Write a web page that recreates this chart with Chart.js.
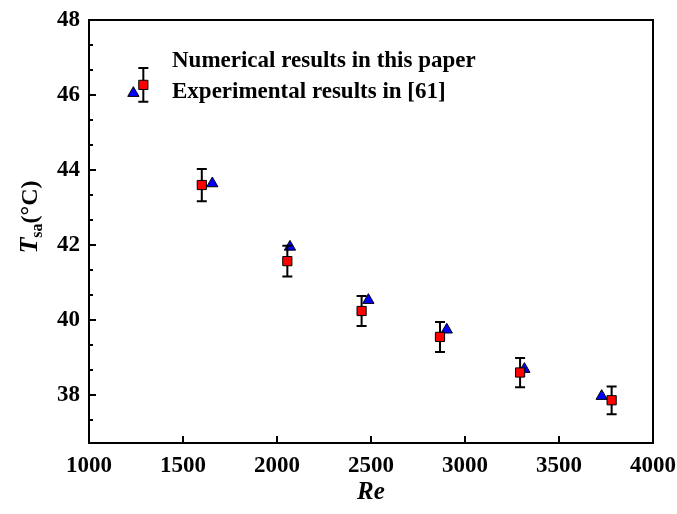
<!DOCTYPE html>
<html>
<head>
<meta charset="utf-8">
<script src="https://cdn.jsdelivr.net/npm/chart.js@4.4.1/dist/chart.umd.min.js"></script>
<style>
  html, body { margin: 0; padding: 0; background: #fff; }
  #wrap { width: 677px; height: 514px; }
</style>
</head>
<body>
<div id="wrap"><canvas id="chart" width="677" height="514"></canvas></div>
<script>
// values
const reNum = [1236, 1656, 2069, 2486, 2903, 3316, 3727];
const tNum = [46.05, 43.64, 41.95, 40.53, 39.74, 38.69, 37.97];
const reExp = [1289, 1600, 2055, 2450, 2867, 3293, 3780];
const tExp = [46.27, 43.6, 41.57, 40.24, 39.55, 38.6, 37.86];
const tErr = [0.45, 0.43, 0.41, 0.40, 0.40, 0.39, 0.37];
const xTicks = [1000, 1500, 2000, 2500, 3000, 3500, 4000];
const yTicks = [38, 40, 42, 44, 46, 48];
const legendText = ['Numerical results in this paper', 'Experimental results in [61]'];

const serif = '"Liberation Serif", "Times New Roman", serif';

const decor = {
  id: 'decor',
  afterDatasetDraw(chart, args) {
    if (args.index !== 1) return;
    // error bars of the experiment, drawn over the triangles and under the squares
    const { ctx, scales: { x, y } } = chart;
    ctx.save();
    ctx.strokeStyle = '#000';
    ctx.lineWidth = 2;
    reExp.forEach((re, i) => {
      const px = x.getPixelForValue(re);
      const top = y.getPixelForValue(tExp[i] + tErr[i]);
      const bot = y.getPixelForValue(tExp[i] - tErr[i]);
      ctx.beginPath();
      ctx.moveTo(px, top); ctx.lineTo(px, bot);
      ctx.moveTo(px - 5, top); ctx.lineTo(px + 5, top);
      ctx.moveTo(px - 5, bot); ctx.lineTo(px + 5, bot);
      ctx.stroke();
    });
    ctx.restore();
  },
  afterDraw(chart) {
    const { ctx, chartArea: a, scales: { x, y } } = chart;
    ctx.save();
    ctx.strokeStyle = '#000';
    ctx.lineWidth = 2;
    ctx.strokeRect(a.left, a.top, a.right - a.left, a.bottom - a.top);

    // inward ticks
    ctx.beginPath();
    xTicks.forEach(v => {
      const px = x.getPixelForValue(v);
      ctx.moveTo(px, a.bottom); ctx.lineTo(px, a.bottom - 7);
    });
    for (let v = 38 - 2 / 3 * 2; v <= 48.01; v += 2 / 3) {
      const py = y.getPixelForValue(v);
      if (py > a.bottom - 1 || py < a.top + 1) continue;
      const major = yTicks.some(t => Math.abs(t - v) < 1e-6);
      ctx.moveTo(a.left, py); ctx.lineTo(a.left + (major ? 7 : 4), py);
    }
    ctx.stroke();

    ctx.fillStyle = '#000';
    // legend text
    ctx.font = 'bold 23px ' + serif;
    ctx.textAlign = 'left';
    ctx.textBaseline = 'alphabetic';
    ctx.fillText(legendText[0], 172, 67);
    ctx.fillText(legendText[1], 172, 98);

    // x title
    ctx.font = 'italic bold 25px ' + serif;
    ctx.textAlign = 'center';
    ctx.fillText('Re', 371, 499);

    // y title: T_sa(°C)
    ctx.translate(37, 217);
    ctx.rotate(-Math.PI / 2);
    const fT = 'italic bold 26px ' + serif;
    const fS = 'bold 16px ' + serif;
    const fU = 'bold 24px ' + serif;
    ctx.font = fT; const wT = ctx.measureText('T').width;
    ctx.font = fS; const wS = ctx.measureText('sa').width;
    ctx.font = fU; const wU = ctx.measureText('(\u00B0C)').width;
    let cx = -(wT + wS + wU) / 2;
    ctx.textAlign = 'left';
    ctx.font = fT; ctx.fillText('T', cx, 0); cx += wT;
    ctx.font = fS; ctx.fillText('sa', cx, 5); cx += wS;
    ctx.font = fU; ctx.fillText('(\u00B0C)', cx, 0);
    ctx.restore();
  }
};

const toPts = (xs, ys) => xs.map((v, i) => ({ x: v, y: ys[i] }));

new Chart(document.getElementById('chart'), {
  type: 'scatter',
  data: {
    datasets: [
      {
        label: legendText[1],
        data: toPts(reExp, tExp),
        pointStyle: 'rect',
        pointRadius: 6.5,
        pointBackgroundColor: '#ff0000',
        pointBorderColor: '#000',
        pointBorderWidth: 1,
        order: 0
      },
      {
        label: legendText[0],
        data: toPts(reNum, tNum),
        pointStyle: 'triangle',
        pointRadius: 6.5,
        pointBackgroundColor: '#0000ff',
        pointBorderColor: '#000',
        pointBorderWidth: 1,
        order: 1
      }
    ]
  },
  options: {
    responsive: false,
    animation: false,
    layout: { padding: { left: 0, right: 24, top: 20, bottom: 0 } },
    plugins: { legend: { display: false }, tooltip: { enabled: false } },
    scales: {
      x: {
        type: 'linear',
        min: 1000, max: 4000,
        afterBuildTicks: s => { s.ticks = xTicks.map(v => ({ value: v })); },
        afterFit: s => { s.height = 514 - 443; s.paddingLeft = 0; s.paddingRight = 0; },
        grid: { display: false, drawTicks: false },
        border: { display: false },
        ticks: {
          color: '#000', padding: 9, maxRotation: 0,
          font: { family: serif, size: 23, weight: 'bold' },
          callback: v => String(v)
        }
      },
      y: {
        type: 'linear',
        min: 36.72, max: 48,
        afterBuildTicks: s => { s.ticks = yTicks.map(v => ({ value: v })); },
        afterFit: s => { s.width = 89; s.paddingTop = 0; s.paddingBottom = 0; },
        grid: { display: false, drawTicks: false },
        border: { display: false },
        ticks: {
          color: '#000', padding: 9,
          font: { family: serif, size: 23, weight: 'bold' },
          callback: v => String(v)
        }
      }
    }
  },
  plugins: [decor]
});
</script>
</body>
</html>
